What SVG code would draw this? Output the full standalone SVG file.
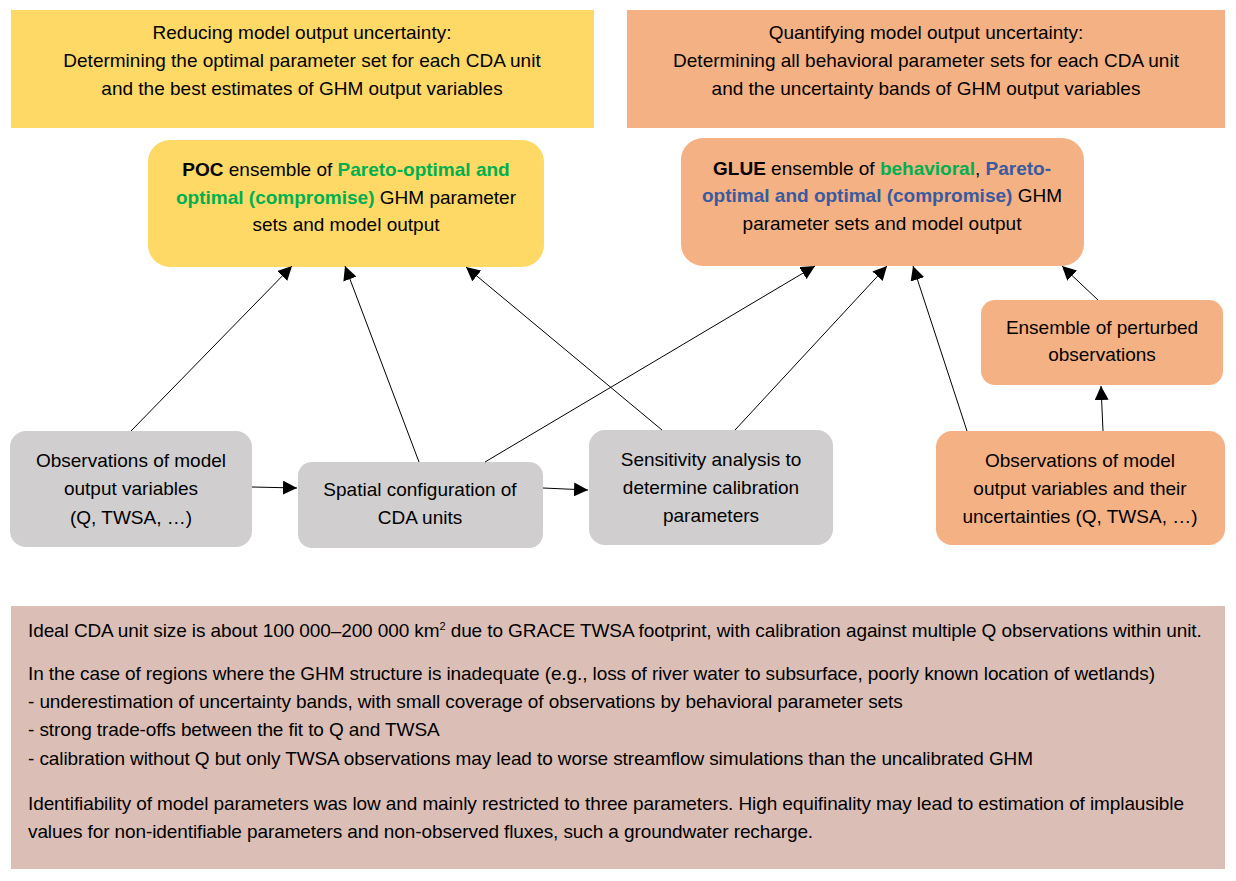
<svg xmlns="http://www.w3.org/2000/svg" width="1236" height="881" viewBox="0 0 1236 881">
<style>
text{font-family:"Liberation Sans",Arial,sans-serif;font-size:19px;fill:#000}
.c{text-anchor:middle}
.b{font-weight:bold}
.g{fill:#00B050;font-weight:bold}
.bl{fill:#3A5A9F;font-weight:bold}
.yel{fill:#FED966}
.org{fill:#F4B183}
.gry{fill:#D0CECE}
.sm text{letter-spacing:-0.1px}
.ln{stroke:#000;stroke-width:1;fill:none;marker-end:url(#ah)}
</style>
<defs>
<marker id="ah" viewBox="0 0 10 10" refX="10" refY="5" markerWidth="14" markerHeight="14" markerUnits="userSpaceOnUse" orient="auto">
<path d="M0,0 L10,5 L0,10 z" fill="#000"/>
</marker>
</defs>
<rect width="1236" height="881" fill="#fff"/>
<g id="goal-reduce">
<rect class="yel" x="11" y="10" width="583" height="118"/>
<text class="c" x="302" y="39">Reducing model output uncertainty:</text>
<text class="c" x="302" y="67">Determining the optimal parameter set for each CDA unit</text>
<text class="c" x="302" y="95">and the best estimates of GHM output variables</text>
</g>
<g id="goal-quantify">
<rect class="org" x="627" y="10" width="598" height="118"/>
<text class="c" x="926" y="39">Quantifying model output uncertainty:</text>
<text class="c" x="926" y="67">Determining all behavioral parameter sets for each CDA unit</text>
<text class="c" x="926" y="95">and the uncertainty bands of GHM output variables</text>
</g>
<g id="poc">
<rect class="yel" x="148" y="140" width="396" height="127" rx="22"/>
<text class="c" x="346" y="176"><tspan class="b">POC</tspan> ensemble of <tspan class="g">Pareto-optimal and</tspan></text>
<text class="c" x="346" y="204"><tspan class="g">optimal (compromise)</tspan> GHM parameter</text>
<text class="c" x="346" y="231">sets and model output</text>
</g>
<g id="glue">
<rect class="org" x="681" y="138" width="403" height="128" rx="22"/>
<text class="c" x="882" y="175"><tspan class="b">GLUE</tspan> ensemble of <tspan class="g">behavioral</tspan>, <tspan class="bl">Pareto-</tspan></text>
<text class="c" x="882" y="202"><tspan class="bl">optimal and optimal (compromise)</tspan> GHM</text>
<text class="c" x="882" y="230">parameter sets and model output</text>
</g>
<g id="perturbed">
<rect class="org" x="981" y="300" width="242" height="85" rx="14"/>
<text class="c" x="1102" y="334">Ensemble of perturbed</text>
<text class="c" x="1102" y="361">observations</text>
</g>
<g id="obs-left">
<rect class="gry" x="10" y="431" width="242" height="116" rx="16"/>
<text class="c" x="131" y="467">Observations of model</text>
<text class="c" x="131" y="495">output variables</text>
<text class="c" x="131" y="524">(Q, TWSA, …)</text>
</g>
<g id="spatial">
<rect class="gry" x="298" y="462" width="245" height="86" rx="14"/>
<text class="c" x="420" y="496">Spatial configuration of</text>
<text class="c" x="420" y="524">CDA units</text>
</g>
<g id="sensitivity">
<rect class="gry" x="589" y="430" width="244" height="115" rx="16"/>
<text class="c" x="711" y="466">Sensitivity analysis to</text>
<text class="c" x="711" y="494">determine calibration</text>
<text class="c" x="711" y="522">parameters</text>
</g>
<g id="obs-right">
<rect class="org" x="936" y="431" width="289" height="114" rx="16"/>
<text class="c" x="1080" y="467">Observations of model</text>
<text class="c" x="1080" y="495">output variables and their</text>
<text class="c" x="1080" y="523">uncertainties (Q, TWSA, …)</text>
</g>
<g id="summary" class="sm">
<rect fill="#DBBFB6" x="11" y="606" width="1214" height="263"/>
<text x="28" y="637">Ideal CDA unit size is about 100 000–200 000 km<tspan font-size="11" dy="-7">2</tspan><tspan dy="7"> due to GRACE TWSA footprint, with calibration against multiple Q observations within unit.</tspan></text>
<text x="28" y="680">In the case of regions where the GHM structure is inadequate (e.g., loss of river water to subsurface, poorly known location of wetlands)</text>
<text x="28" y="708">- underestimation of uncertainty bands, with small coverage of observations by behavioral parameter sets</text>
<text x="28" y="736">- strong trade-offs between the fit to Q and TWSA</text>
<text x="28" y="765">- calibration without Q but only TWSA observations may lead to worse streamflow simulations than the uncalibrated GHM</text>
<text x="28" y="810">Identifiability of model parameters was low and mainly restricted to three parameters. High equifinality may lead to estimation of implausible</text>
<text x="28" y="838">values for non-identifiable parameters and non-observed fluxes, such a groundwater recharge.</text>
</g>
<g id="connectors">
<line class="ln" x1="131" y1="431" x2="292" y2="266"/>
<line class="ln" x1="419" y1="462" x2="345" y2="266"/>
<line class="ln" x1="662" y1="430" x2="466" y2="267"/>
<line class="ln" x1="485" y1="462" x2="815" y2="266"/>
<line class="ln" x1="735" y1="430" x2="887" y2="266"/>
<line class="ln" x1="967" y1="431" x2="913" y2="266"/>
<line class="ln" x1="1098" y1="300" x2="1062" y2="266"/>
<line class="ln" x1="1103" y1="431" x2="1101" y2="386"/>
<line class="ln" x1="252" y1="487" x2="297" y2="488"/>
<line class="ln" x1="543" y1="488" x2="588" y2="490"/>
</g>
</svg>
